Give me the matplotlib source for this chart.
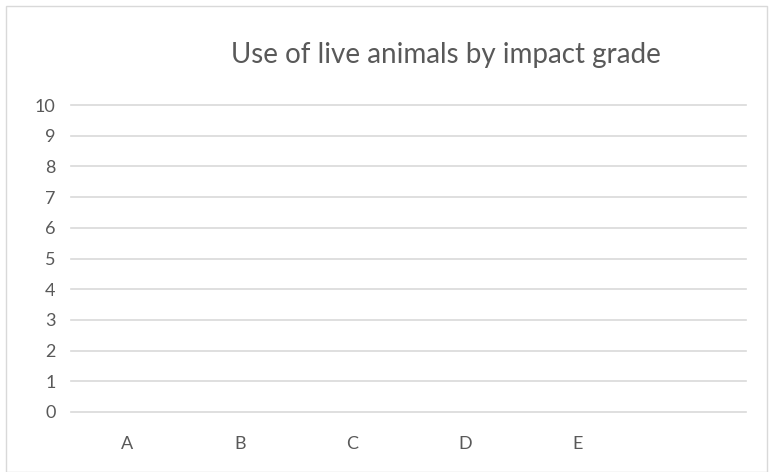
import matplotlib.pyplot as plt
import numpy as np

plt.rcParams['font.family'] = ['Lato', 'DejaVu Sans']

# data: six category slots, the last one unlabeled, no values drawn
categories = ['A', 'B', 'C', 'D', 'E', '']
values = [np.nan, np.nan, np.nan, np.nan, np.nan, np.nan]
yticks = list(range(0, 11))

fig = plt.figure(figsize=(7.69, 4.72), dpi=100)
ax = fig.add_axes([71/769, 1 - 412/472, 675/769, 307/472])

x = np.arange(len(categories))
ax.bar(x, values, width=0.6, color='#4472C4')

ax.set_xlim(-0.5, len(categories) - 0.5)
ax.set_ylim(0, 10)
ax.set_yticks(yticks)
ax.set_xticks(x)
ax.set_xticklabels(categories)

ax.tick_params(axis='both', length=0, labelsize=13, colors='#595959')
ax.tick_params(axis='y', pad=11)
ax.tick_params(axis='x', pad=17)
ax.grid(axis='y', color='#d9d9d9', linewidth=1.2)
for gl in ax.get_ygridlines():
    gl.set_clip_on(False)
ax.set_axisbelow(True)
for s in ax.spines.values():
    s.set_visible(False)

fig.text(446/769, 1 - 55/472, 'Use of live animals by impact grade',
         ha='center', va='center', fontsize=20, color='#595959')

# chart border
fig.patches.append(plt.Rectangle((6/769, 0), 1 - 8/769, 1 - 6/472, transform=fig.transFigure,
                                 fill=False, edgecolor='#d9d9d9', linewidth=1))

fig.savefig('out.png', dpi=100)
